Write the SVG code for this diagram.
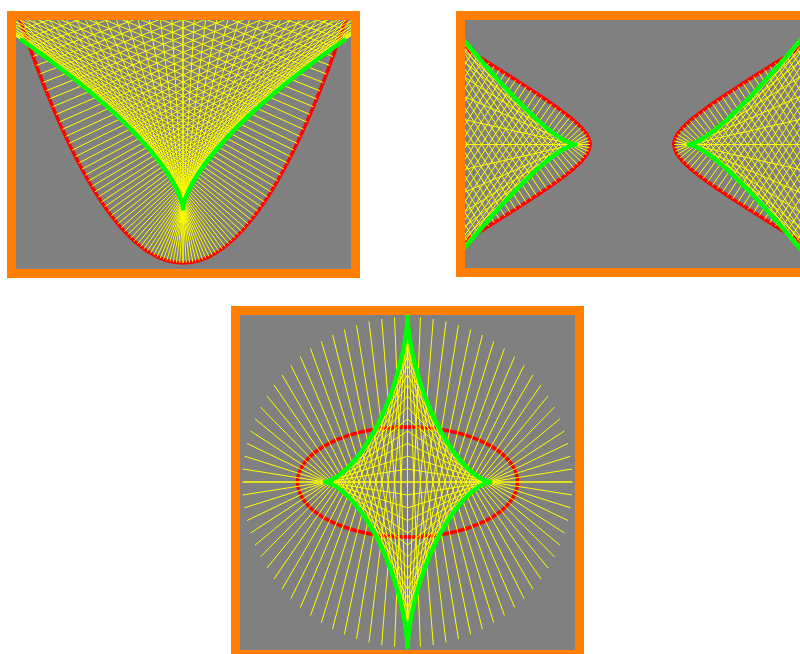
<svg xmlns="http://www.w3.org/2000/svg" width="800" height="654" viewBox="0 0 800 654">
<style>
.frame{fill:#808080;stroke:#ff8000;stroke-width:9}
.norm{fill:none;stroke:#ffff00;stroke-width:1}
.curve{fill:none;stroke:#ff0000;stroke-width:3.5;stroke-linejoin:round;stroke-linecap:round}
.evo{fill:none;stroke:#00ff00;stroke-width:4.5;stroke-linejoin:round;stroke-linecap:round}
</style>
<defs>
<clipPath id="c1"><rect x="16" y="20" width="335" height="249"/></clipPath>
<clipPath id="c2"><rect x="465" y="20" width="335" height="248"/></clipPath>
<clipPath id="c3"><rect x="240" y="315" width="335" height="335"/></clipPath>
<path id="pn" vector-effect="non-scaling-stroke" d="M0 0L0 2789M1 1L-4 2790M2 4L-8 2793M3 9L-12 2798M4 16L-16 2805M5 25L-20 2814M6 36L-24 2825M7 49L-28 2838M8 64L-32 2853M9 81L-36 2870M10 100L-40 2889M11 121L-44 2910M12 144L-48 2933M13 169L-52 2958M14 196L-56 2985M15 225L-60 3014M16 256L-64 3045M17 289L-68 3078M18 324L-72 3113M19 361L-76 3150M20 400L-80 3189M21 441L-84 3230M22 484L-88 3273M23 529L-92 3318M24 576L-96 3365M25 625L-100 3414M26 676L-104 3465M27 729L-108 3518M28 784L-112 3573M29 841L-116 3630M30 900L-120 3689M31 961L-124 3750M32 1024L-128 3813M33 1089L-132 3878M34 1156L-136 3945M35 1225L-140 4014M36 1296L-144 4085M37 1369L-148 4158M38 1444L-152 4233M39 1521L-156 4310M40 1600L-160 4389M41 1681L-164 4470M42 1764L-168 4553M43 1849L-172 4638M44 1936L-176 4725M45 2025L-180 4814M46 2116L-184 4905M47 2209L-188 4998M48 2304L-192 5093M49 2401L-196 5190M50 2500L-200 5289"/>
<path id="hn" d="M42 0L242 0M42.39 -3.4L244.23 42.3M43.53 -6.8L250.79 84.59M45.36 -10.2L261.37 126.89M47.81 -13.6L275.49 169.18M50.79 -17L292.65 211.48M54.21 -20.4L312.34 253.78M57.99 -23.8L334.13 296.07M62.07 -27.2L357.62 338.37M66.38 -30.6L382.5 380.66M70.9 -34L408.51 422.96M75.58 -37.4L435.47 465.26M80.39 -40.8L463.19 507.55M85.31 -44.2L491.55 549.85M90.33 -47.6L520.45 592.14M95.42 -51L549.8 634.44M100.58 -54.4L579.54 676.74M105.8 -57.8L609.6 719.03M111.06 -61.2L639.94 761.33M116.37 -64.6L670.52 803.62M121.72 -68L701.32 845.92M127.09 -71.4L732.29 888.22M132.5 -74.8L763.43 930.51M137.93 -78.2L794.72 972.81M143.38 -81.6L826.13 1015.1M148.85 -85L857.65 1057.4M154.34 -88.4L889.27 1099.7M159.84 -91.8L920.99 1141.99M165.36 -95.2L952.78 1184.29M170.89 -98.6L984.65 1226.58M176.43 -102L1016.58 1268.88M181.98 -105.4L1048.58 1311.18"/>
<path id="hr" d="M42 0L42.3 -3.01L43.22 -6.06L44.75 -9.2L46.93 -12.47L49.79 -15.92L53.36 -19.6L57.71 -23.56L62.89 -27.86L68.97 -32.56L76.05 -37.74L84.22 -43.45L93.61 -49.8L104.35 -56.86L116.59 -64.74L130.51 -73.55L146.32 -83.43L164.23 -94.51L174.06 -100.55"/>
<path id="hg" d="M56.88 0L57.19 -0.02L58.12 -0.17L59.7 -0.57L61.96 -1.36L64.97 -2.7L68.81 -4.76L73.56 -7.73L79.36 -11.85L86.37 -17.39L94.76 -24.66L104.77 -34.05L116.68 -46.02L130.8 -61.11L147.56 -79.96L167.41 -103.37L190.93 -132.25"/>
<path id="en" d="M165 0L0 0M164.49 -12.95L0 12.95M162.97 -25.81L0 25.81M160.44 -38.52L0 38.52M156.92 -50.99L0 50.99M152.44 -63.14L0 63.14M147.02 -74.91L0 74.91M140.69 -86.21L0 86.21M133.49 -96.99L0 96.99M125.47 -107.16L0 107.16M116.67 -116.67L0 116.67M107.16 -125.47L0 125.47M96.99 -133.49L0 133.49M86.21 -140.69L0 140.69M74.91 -147.02L0 147.02M63.14 -152.44L0 152.44M50.99 -156.92L0 156.92M38.52 -160.44L0 160.44M25.81 -162.97L0 162.97M12.95 -164.49L0 164.49M0 -165L0 165"/>
<path id="eg" d="M82.5 0L81.74 -0.08L79.49 -0.63L75.85 -2.1L70.97 -4.87L65.06 -9.25L58.36 -15.44L51.14 -23.54L43.68 -33.51L36.27 -45.2L29.17 -58.34L22.6 -72.55L16.75 -87.37L11.77 -102.28L7.72 -116.71L4.62 -130.12L2.43 -141.94L1.05 -151.7L0.32 -158.98L0.04 -163.48L0 -165"/>
</defs>

<g id="panel-parabola">
<rect class="frame" x="11.5" y="15.5" width="344" height="258"/>
<g clip-path="url(#c1)">
<path id="parabola" class="curve" d="M20 19Q183 507 346 19"/>
<g id="parabola-normals" class="norm" transform="translate(183 263) scale(3.26 -0.0976)">
<use href="#pn"/>
<use href="#pn" transform="scale(-1 1)"/>
</g>
<path id="parabola-evolute" class="evo" d="M183 208.55C183 208.55 183 152.37 21.6 40M183 208.55C183 208.55 183 152.37 344.4 40"/>
</g>
</g>

<g id="panel-hyperbola">
<rect class="frame" x="460.5" y="15.5" width="344" height="257"/>
<g clip-path="url(#c2)">
<g transform="translate(632 144.5)">
<g id="hyperbola" class="curve">
<use href="#hr"/><use href="#hr" transform="scale(1 -1)"/><use href="#hr" transform="scale(-1 1)"/><use href="#hr" transform="scale(-1 -1)"/>
</g>
<g id="hyperbola-normals" class="norm">
<use href="#hn"/><use href="#hn" transform="scale(1 -1)"/><use href="#hn" transform="scale(-1 1)"/><use href="#hn" transform="scale(-1 -1)"/>
</g>
<g id="hyperbola-evolute" class="evo">
<use href="#hg"/><use href="#hg" transform="scale(1 -1)"/><use href="#hg" transform="scale(-1 1)"/><use href="#hg" transform="scale(-1 -1)"/>
</g>
</g>
</g>
</g>

<g id="panel-ellipse">
<rect class="frame" x="235.5" y="310.5" width="344" height="344"/>
<g clip-path="url(#c3)">
<g transform="translate(407.5 482)">
<ellipse id="ellipse" class="curve" cx="0" cy="0" rx="110" ry="55"/>
<g id="ellipse-normals" class="norm">
<use href="#en"/><use href="#en" transform="scale(1 -1)"/><use href="#en" transform="scale(-1 1)"/><use href="#en" transform="scale(-1 -1)"/>
</g>
<g id="ellipse-evolute" class="evo">
<use href="#eg"/><use href="#eg" transform="scale(1 -1)"/><use href="#eg" transform="scale(-1 1)"/><use href="#eg" transform="scale(-1 -1)"/>
</g>
</g>
</g>
</g>
</svg>
